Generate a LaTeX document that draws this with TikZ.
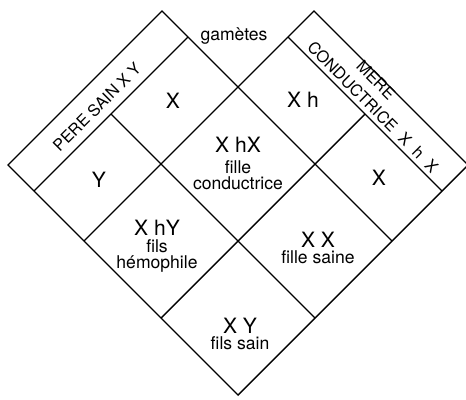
\documentclass[tikz,border=0pt]{standalone}
\usepackage{fontspec}
\setmainfont{TeX Gyre Heros}
\begin{document}
\begin{tikzpicture}[x=0.02cm, y=-0.02cm, line width=0.8pt,
  bandtxt/.style={inner sep=0.5pt, font=\fontsize{9.2}{10}\selectfont},
  geno/.style={font=\fontsize{12}{12}\selectfont},
  cell/.style={align=center, font=\fontsize{10}{9}\selectfont}]
  \useasboundingbox (0,0) rectangle (466,399);
  \begin{scope}[shift={(238,87)}, x={(0.02cm,-0.02cm)}, y={(-0.02cm,-0.02cm)}]
    \draw (0,-76) -- (154,-76) -- (154,154) -- (-76,154) -- (-76,0) -- (0,0) -- cycle;
    \foreach \t/\a in {-50/0, 0/0, 77/-50}
      \draw (\a,\t) -- (154,\t);
    \foreach \s/\a in {-50/0, 0/0, 77/-50}
      \draw (\s,\a) -- (\s,154);
  \end{scope}
  \node[cell, anchor=base] (gam) at (234,40) {gamètes};
  \node[bandtxt, rotate=45] (pere) at (97,107) {PERE SAIN X Y};
  \node[bandtxt, rotate=-45] (mere) at (376,80) {MERE};
  \node[bandtxt, rotate=-45] (cond) at (373,107) {CONDUCTRICE\ \ X\ \ h\ \ X};
  \node[geno] (xp) at (173,101) {X};
  \node[geno] (yp) at (99,180) {Y};
  \node[geno] (xhm) at (303,100) {X h};
  \node[geno] (xm) at (379,178) {X};
  \node[cell] (xhx) at (238,163) {{\fontsize{12}{12}\selectfont X hX}\\[3pt] fille\\ conductrice};
  \node[cell] (xhy) at (157,246) {{\fontsize{12}{12}\selectfont X hY}\\[1pt] fils\\ hémophile};
  \node[cell] (xx) at (318,248) {{\fontsize{12}{12}\selectfont X X}\\ fille saine};
  \node[cell] (xy) at (240,334) {{\fontsize{12}{12}\selectfont X Y}\\ fils sain};
\end{tikzpicture}
\end{document}
